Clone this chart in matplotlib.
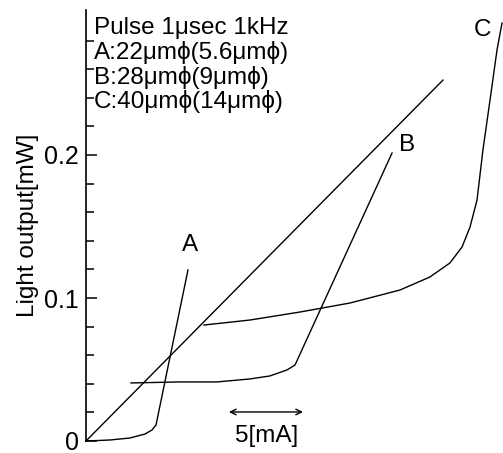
import matplotlib
matplotlib.use("Agg")
import matplotlib.pyplot as plt

plt.rcParams['font.family'] = ['Liberation Sans', 'DejaVu Sans']

# Data (current in mA measured from threshold origin, light output in mW)
line_x = [0.0, 24.12]
line_y = [0.0, 0.2524]

a_x = [0.0, 1.62, 2.97, 3.99, 4.46, 4.73, 6.89]
a_y = [0.0, 0.0007, 0.0021, 0.0049, 0.0077, 0.0112, 0.1196]

b_x = [3.04, 6.35, 8.85, 11.08, 12.43, 13.58, 14.12, 20.68]
b_y = [0.0406, 0.0413, 0.0413, 0.0434, 0.0455, 0.0497, 0.0531, 0.2014]

c_x = [7.97, 11.08, 14.46, 17.84, 21.22, 23.24, 24.59, 25.41, 25.95, 26.42,
       26.82, 27.30, 27.77, 28.11]
c_y = [0.0811, 0.0846, 0.0902, 0.0965, 0.1056, 0.1147, 0.1245, 0.1357,
       0.1497, 0.1685, 0.2035, 0.2385, 0.2734, 0.2923]

y_major = [0.0, 0.1, 0.2]
y_major_labels = ['0', '0.1', '0.2']
y_minor = [0.02, 0.04, 0.06, 0.08, 0.12, 0.14, 0.16, 0.18, 0.22, 0.24, 0.26, 0.28]

info_lines = ['Pulse 1\u03bcsec 1kHz',
              'A:22\u03bcm\u03d5(5.6\u03bcm\u03d5)',
              'B:28\u03bcm\u03d5(9\u03bcm\u03d5)',
              'C:40\u03bcm\u03d5(14\u03bcm\u03d5)']

W, H = 503, 453
fig = plt.figure(figsize=(W / 100, H / 100), dpi=100)
ax = fig.add_axes([86 / W, (H - 441) / H, (W - 86) / W, (441 - 10) / H])
ax.set_xlim(0, 417 / 14.8)
ax.set_ylim(0, 431 / 1430)

for s in ['top', 'right', 'bottom']:
    ax.spines[s].set_visible(False)
ax.spines['left'].set_linewidth(1.2)
ax.set_xticks([])
ax.set_yticks(y_major)
ax.set_yticklabels(y_major_labels)
ax.set_yticks(y_minor, minor=True)
ax.tick_params(axis='y', which='major', direction='in', length=8, width=1.1,
               labelsize=18, pad=5)
ax.tick_params(axis='y', which='minor', direction='in', length=6, width=1.1)
ax.set_ylabel('Light output[mW]', fontsize=17.5, labelpad=4)

kw = dict(color='black', lw=1.0, clip_on=False)
ax.plot(line_x, line_y, **kw)
ax.plot(a_x, a_y, **kw)
ax.plot(b_x, b_y, **kw)
ax.plot(c_x, c_y, **kw)

# curve labels
ax.text(7.0, 0.1371, 'A', fontsize=17.5, ha='center', va='center')
ax.text(21.7, 0.2070, 'B', fontsize=17.5, ha='center', va='center')
ax.text(26.8, 0.2874, 'C', fontsize=17.5, ha='center', va='center')

# scale arrow (5 mA)
ax.annotate('', xy=(14.66, 0.0203), xytext=(9.66, 0.0203),
            arrowprops=dict(arrowstyle='<->', color='black', lw=1.0,
                            shrinkA=0, shrinkB=0), annotation_clip=False)
ax.text(12.2, 0.0033, '5[mA]', fontsize=17.5, ha='center', va='center',
        clip_on=False)

baselines = [34, 59, 84, 108]
for txt, b in zip(info_lines, baselines):
    fig.text(94 / W, 1 - b / H, txt, fontsize=17.5, ha='left', va='baseline')

fig.savefig('out.png', dpi=100)
